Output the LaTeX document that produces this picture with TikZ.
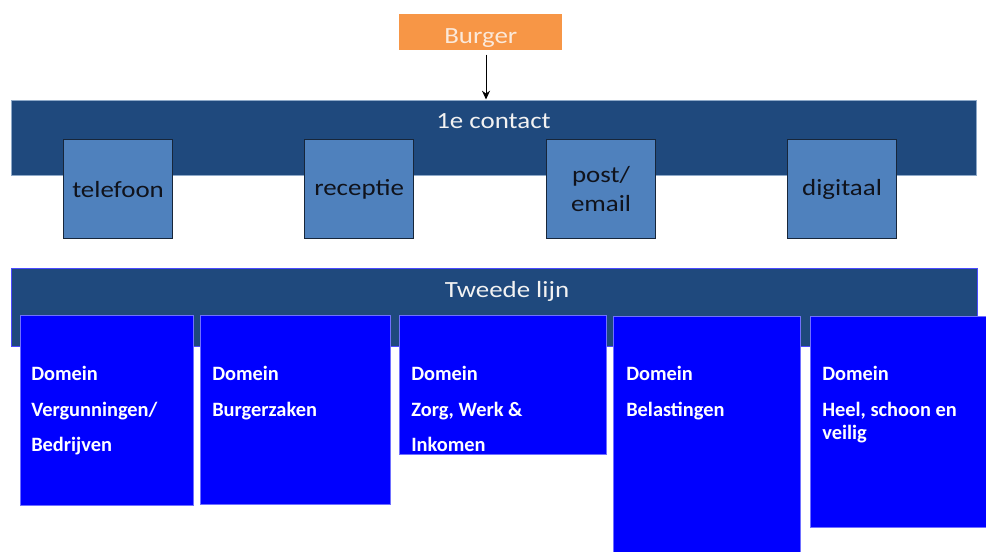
\documentclass[tikz,border=0pt]{standalone}
\usepackage{fontspec}
\setmainfont{Carlito}
\newfontfamily\widefont{Carlito}[FakeStretch=1.16]
\usetikzlibrary{arrows.meta}
\definecolor{burgeroranje}{HTML}{F79646}
\definecolor{burgertekst}{HTML}{FBE9DA}
\definecolor{bandblauw}{HTML}{1F497D}
\definecolor{bandrand}{HTML}{8EA9C8}
\definecolor{lijnrand}{HTML}{4A4AFF}
\definecolor{kanaalblauw}{HTML}{4F81BD}
\definecolor{kanaalrand}{HTML}{17263A}
\definecolor{kanaaltekst}{HTML}{10131C}
\definecolor{domeinblauw}{HTML}{0000FF}
\definecolor{domeinrand}{HTML}{7070FF}
\begin{document}
\begin{tikzpicture}[x=0.025cm,y=-0.025cm,
boxsize/.style 2 args={minimum width=#1*0.025cm,minimum height=#2*0.025cm},
band/.style={
	rectangle,anchor=north west,inner sep=0pt,
	fill=bandblauw,draw=#1,line width=0.6pt},
titel/.style={text=white!95!black,font=\widefont\fontsize{16.5}{20}\selectfont},
kanaal/.style={
	rectangle,anchor=north west,inner sep=0pt,boxsize={109}{99},
	fill=kanaalblauw,draw=kanaalrand,line width=0.8pt,
	align=center,text=kanaaltekst,font=\widefont\fontsize{16.5}{20.6}\selectfont},
domein/.style={
	rectangle,anchor=north west,inner sep=0pt,
	fill=domeinblauw,draw=domeinrand,line width=0.6pt},
domeintekst/.style={anchor=north west,inner sep=0pt,align=left,text=white,
	font=\bfseries\fontsize{14.5}{16.4}\selectfont}
]
\useasboundingbox (0,0) rectangle (986,552);
% burger en eerste lijn
\node[rectangle,anchor=north west,boxsize={163}{36},inner sep=0pt,fill=burgeroranje,
	text height=15.6pt,text depth=0pt,
	text=burgertekst,font=\widefont\fontsize{16.5}{20}\selectfont] (burger) at (399,14) {Burger};
\node[band=bandrand,boxsize={965}{75}] (contact) at (11,100) {};
\node[titel] (contacttitel) at (493.5,121.5) {1e contact};
\coordinate (pijl) at (486,99.5);
\draw[-{Stealth[length=0.22cm,width=0.2cm]},line width=0.6pt,shorten <=0.1cm]
	(burger.south -| pijl) -- (pijl);
\node[kanaal] (telefoon) at (63,139) {telefoon};
\node[kanaal] (receptie) at (304,139) {receptie};
\node[kanaal] (post) at (546,139) {post/\\email};
\node[kanaal] (digitaal) at (787,139) {digitaal};
% tweede lijn
\node[band=lijnrand,boxsize={966}{78}] (tweede) at (11,268) {};
\node[titel] (tweedetitel) at (507,291) {Tweede lijn};
\node[domein,boxsize={173}{190}] (vergunningen) at (20,315) {};
\node[domein,boxsize={190}{189}] (burgerzaken) at (200,315) {};
\node[domein,boxsize={207}{139}] (zorg) at (399,315) {};
\node[domein,boxsize={187}{240}] (belastingen) at (613,316) {};
\node[domein,boxsize={176}{211}] (veilig) at (810,316) {};
\node[domeintekst] (vergunningentekst) at (31,366) {Domein\\[8.8pt]Vergunningen/\\[8.8pt]Bedrijven};
\node[domeintekst] (burgerzakentekst) at (212,366) {Domein\\[8.8pt]Burgerzaken};
\node[domeintekst] (zorgtekst) at (411,366) {Domein\\[8.8pt]Zorg, Werk \&\\[8.8pt]Inkomen};
\node[domeintekst] (belastingentekst) at (626,366) {Domein\\[8.8pt]Belastingen};
\node[domeintekst] (veiligtekst) at (822,366) {Domein\\[8.8pt]Heel, schoon en\\veilig};
\end{tikzpicture}
\end{document}
